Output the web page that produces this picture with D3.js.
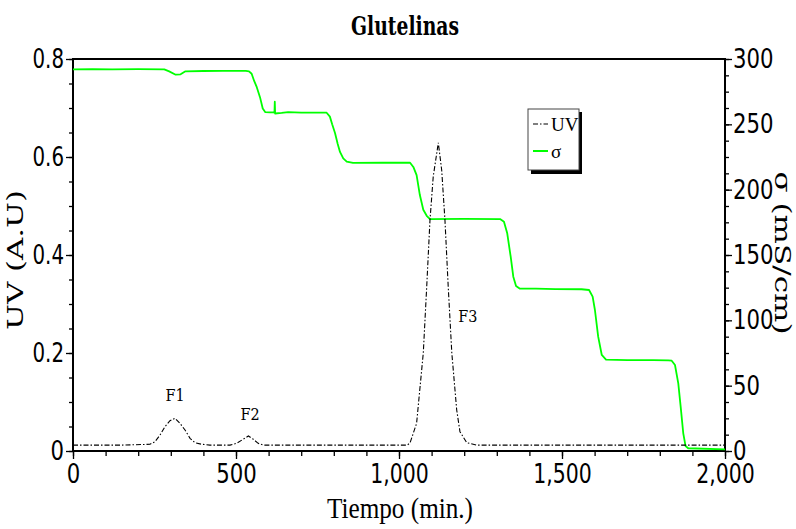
<!DOCTYPE html>
<html>
<head>
<meta charset="utf-8">
<script src="https://cdn.jsdelivr.net/npm/d3@7"></script>
<style>
  html, body { margin: 0; padding: 0; background: #fff; }
  svg { display: block; }
</style>
</head>
<body>
<svg id="chart" width="796" height="529"></svg>
<script>
// Elution time (min) and UV absorbance (A.U) of the dash-dot trace
const uvTime = [0, 150, 236, 251.5, 267, 282, 297.5, 313, 328, 343.6, 359, 374, 395, 420,
  481.6, 502, 522, 538, 553, 568, 584,
  1025, 1033.7, 1054, 1074.5, 1085, 1095, 1105, 1120.6, 1131, 1141, 1151, 1162, 1177, 1187, 1208, 1238, 2000];
const uvValue = [0.012, 0.012, 0.0137, 0.019, 0.0327, 0.0496, 0.0618, 0.0667, 0.0565, 0.0429, 0.0259, 0.0169, 0.0137, 0.012,
  0.012, 0.0157, 0.0239, 0.0306, 0.0239, 0.0157, 0.012,
  0.012, 0.0163, 0.0565, 0.2, 0.335, 0.471, 0.56, 0.629, 0.573, 0.471, 0.335, 0.2, 0.0837, 0.0394, 0.0169, 0.012, 0.012];

// Elution time (min) and conductivity σ (mS/cm) of the green trace
const sigmaTime = [0, 60, 120, 200, 280, 295, 315, 330, 345, 400, 460, 530, 540, 548, 556, 563.5, 573.6, 582, 590,
  605, 614, 618, 619, 620, 640, 660, 700, 778, 788, 795, 803.7, 812, 819, 829, 839.6, 859, 950, 1034,
  1044, 1054, 1064, 1074.5, 1085, 1095, 1200, 1310, 1322, 1332, 1342.6, 1350.6, 1359, 1371, 1420, 1480,
  1560, 1583, 1594, 1601, 1611, 1622, 1635, 1700, 1780, 1826, 1836.5, 1846.6, 1856.7, 1864, 1872, 1879, 1887, 2000];
const sigmaValue = [292.1, 292.3, 292.0, 292.2, 292.0, 290.5, 288.0, 288.3, 290.6, 290.8, 290.9, 290.9, 290.5, 288.7, 283, 278.6, 270.8, 262.1, 259.3,
  259.1, 259.1, 259.0, 267.3, 258.3, 258.7, 259.4, 259.0, 258.9, 255.9, 250, 243.3, 235, 228.9, 223.9, 221.5, 220.5, 220.6, 220.6,
  217.4, 211.1, 195.9, 184.6, 180, 177.4, 177.6, 177.5, 175.5, 166.6, 148.7, 133.4, 126.3, 124.2, 124.2, 123.9,
  123.8, 123.2, 118.1, 107.9, 87.5, 73.5, 70.0, 69.6, 69.5, 69.4, 69.1, 65.8, 51.8, 33.9, 13.5, 3.8, 2.1, 1.3];

// Peak labels
const peakNames = ["F1", "F2", "F3"];
const peakTime = [313, 543, 1211];
const peakUV = [0.113, 0.074, 0.275];

// Axis ticks
const timeTicks = [0, 500, 1000, 1500, 2000];
const uvTicks = [0, 0.2, 0.4, 0.6, 0.8];
const sigmaTicks = [0, 50, 100, 150, 200, 250, 300];

const W = 796, H = 529;
const margin = { top: 59, right: 71, bottom: 78, left: 73 };
const innerW = W - margin.left - margin.right;
const innerH = H - margin.top - margin.bottom;

const numFont = "'DejaVu Sans Condensed', 'Liberation Sans', sans-serif";
const serifFont = "'DejaVu Serif Condensed', 'DejaVu Serif', serif";
const labelFont = "'Liberation Serif', 'DejaVu Serif', serif";

// Narrow tick numerals: digits get a fixed advance, separators a small one
const numLength = s => s.replace(/[.,]/g, "").length * 13.5 + (s.match(/[.,]/g) || []).length * 4.5;

const svg = d3.select("#chart");
const g = svg.append("g").attr("transform", `translate(${margin.left},${margin.top})`);

const x = d3.scaleLinear().domain([0, 2000]).range([0, innerW]);
const yL = d3.scaleLinear().domain([0, 0.8]).range([innerH, 0]);
const yR = d3.scaleLinear().domain([0, 300]).range([innerH, 0]);

// Minor ticks
g.append("g").attr("transform", `translate(0,${innerH})`)
  .call(d3.axisBottom(x).tickValues(d3.range(0, 2001, 100)).tickSize(5).tickFormat(""))
  .call(a => a.select(".domain").remove());
g.append("g")
  .call(d3.axisLeft(yL).tickValues(d3.range(0, 0.801, 0.05)).tickSize(4).tickFormat(""))
  .call(a => a.select(".domain").remove());
g.append("g").attr("transform", `translate(${innerW},0)`)
  .call(d3.axisRight(yR).tickValues(d3.range(0, 300.1, 12.5)).tickSize(4).tickFormat(""))
  .call(a => a.select(".domain").remove());

// Major ticks with labels
const xAxis = g.append("g").attr("transform", `translate(0,${innerH})`)
  .call(d3.axisBottom(x).tickValues(timeTicks).tickSize(8).tickPadding(5).tickFormat(d3.format(",")));
const lAxis = g.append("g")
  .call(d3.axisLeft(yL).tickValues(uvTicks).tickSize(7).tickPadding(2)
    .tickFormat(d => d === 0 ? "0" : d3.format(".1f")(d)));
const rAxis = g.append("g").attr("transform", `translate(${innerW},0)`)
  .call(d3.axisRight(yR).tickValues(sigmaTicks).tickSize(7).tickPadding(1));

[xAxis, lAxis, rAxis].forEach(a => {
  a.select(".domain").remove();
  a.selectAll("text")
    .attr("font-family", numFont).attr("font-size", 27).attr("fill", "#000")
    .attr("lengthAdjust", "spacingAndGlyphs")
    .attr("textLength", function () { return numLength(this.textContent); });
});
svg.selectAll(".tick line").attr("stroke", "#000").attr("stroke-width", 1.3);

// Frame
g.append("rect").attr("x", 0).attr("y", 0).attr("width", innerW).attr("height", innerH)
  .attr("fill", "none").attr("stroke", "#000").attr("stroke-width", 2);

// Conductivity trace
const sigmaLine = d3.line().x((d, i) => x(sigmaTime[i])).y(d => yR(d));
g.append("path").datum(sigmaValue).attr("d", sigmaLine)
  .attr("fill", "none").attr("stroke", "#00ff00").attr("stroke-width", 1.8)
  .attr("stroke-linejoin", "round");

// UV trace
const uvLine = d3.line().x((d, i) => x(uvTime[i])).y(d => yL(d));
g.append("path").datum(uvValue).attr("d", uvLine)
  .attr("fill", "none").attr("stroke", "#000").attr("stroke-width", 1.1)
  .attr("stroke-dasharray", "5,2,1.5,2");

// Peak labels
g.selectAll(".peak").data(peakNames).join("text")
  .attr("class", "peak")
  .attr("x", (d, i) => x(peakTime[i]))
  .attr("y", (d, i) => yL(peakUV[i]))
  .attr("text-anchor", "middle")
  .attr("dominant-baseline", "central")
  .attr("font-family", serifFont).attr("font-size", 16).attr("fill", "#000")
  .text(d => d);

// Title
svg.append("text").attr("x", 405).attr("y", 35).attr("text-anchor", "middle")
  .attr("font-family", serifFont).attr("font-weight", "bold").attr("font-size", 26)
  .attr("textLength", 108).attr("lengthAdjust", "spacingAndGlyphs")
  .text("Glutelinas");

// Axis titles
svg.append("text").attr("x", 400).attr("y", 518).attr("text-anchor", "middle")
  .attr("font-family", labelFont).attr("font-size", 30)
  .attr("textLength", 146).attr("lengthAdjust", "spacingAndGlyphs")
  .text("Tiempo (min.)");

svg.append("text").attr("transform", "translate(23,260) rotate(-90)").attr("text-anchor", "middle")
  .attr("font-family", serifFont).attr("font-size", 22)
  .attr("textLength", 140).attr("lengthAdjust", "spacingAndGlyphs")
  .text("UV (A.U)");

svg.append("text").attr("transform", "translate(775,253) rotate(90)").attr("text-anchor", "middle")
  .attr("font-family", serifFont).attr("font-size", 22)
  .attr("textLength", 163).attr("lengthAdjust", "spacingAndGlyphs")
  .text("σ (mS/cm)");

// Legend
const lg = svg.append("g").attr("transform", "translate(528,109)");
lg.append("rect").attr("x", 3).attr("y", 3).attr("width", 51).attr("height", 62).attr("fill", "#000");
lg.append("rect").attr("x", 0).attr("y", 0).attr("width", 51).attr("height", 61)
  .attr("fill", "#fff").attr("stroke", "#444").attr("stroke-width", 1);
const legendItems = [
  { name: "UV", color: "#000", dash: "5,2,1.5,2", width: 1.1 },
  { name: "σ", color: "#00ff00", dash: null, width: 2 }
];
legendItems.forEach((it, i) => {
  const yy = 15 + i * 27;
  lg.append("line").attr("x1", 5).attr("x2", 20).attr("y1", yy).attr("y2", yy)
    .attr("stroke", it.color).attr("stroke-width", it.width)
    .attr("stroke-dasharray", it.dash);
  lg.append("text").attr("x", 23).attr("y", yy).attr("dominant-baseline", "central")
    .attr("font-family", labelFont).attr("font-size", 19).attr("fill", "#000")
    .text(it.name);
});
</script>
</body>
</html>
